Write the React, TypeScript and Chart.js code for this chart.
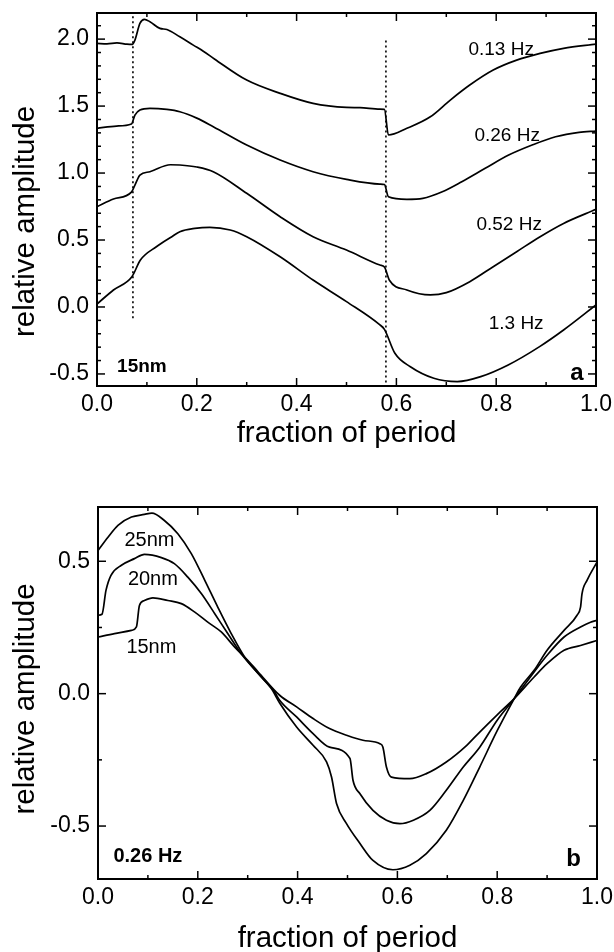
import React, { useEffect, useRef } from 'react';
import { Chart, registerables } from 'chart.js';

Chart.register(...registerables);

const FONT = '"Liberation Sans", Arial, Helvetica, sans-serif';

// ---------------- shared axis ticks ----------------
const xTicks = [0, 0.2, 0.4, 0.6, 0.8, 1.0];
const xMinorTicks = [0.1, 0.3, 0.5, 0.7, 0.9];

// ---------------- panel a (15nm, four frequencies) ----------------
const aX013 = [0, 0.02, 0.04, 0.06, 0.07, 0.076, 0.086, 0.095, 0.106, 0.126, 0.14, 0.166, 0.193, 0.213, 0.236, 0.3, 0.367, 0.433, 0.5, 0.527, 0.567, 0.576, 0.584, 0.621, 0.668, 0.708, 0.747, 0.794, 0.841, 0.888, 0.935, 1.0];
const aY013 = [1.968, 1.965, 1.972, 1.962, 1.96, 1.993, 2.117, 2.147, 2.13, 2.08, 2.072, 2.017, 1.955, 1.91, 1.85, 1.694, 1.595, 1.52, 1.49, 1.488, 1.478, 1.476, 1.284, 1.334, 1.42, 1.545, 1.657, 1.769, 1.843, 1.893, 1.931, 1.963];

const aX026 = [0, 0.039, 0.069, 0.076, 0.086, 0.106, 0.14, 0.166, 0.2, 0.233, 0.3, 0.367, 0.433, 0.5, 0.567, 0.576, 0.584, 0.621, 0.653, 0.692, 0.731, 0.778, 0.825, 0.872, 0.919, 0.966, 1.0];
const aY026 = [1.334, 1.351, 1.366, 1.433, 1.47, 1.483, 1.475, 1.458, 1.41, 1.346, 1.209, 1.097, 1.01, 0.953, 0.918, 0.914, 0.823, 0.804, 0.811, 0.86, 0.935, 1.035, 1.134, 1.209, 1.271, 1.304, 1.313];

const aX052 = [0, 0.033, 0.069, 0.076, 0.086, 0.106, 0.147, 0.166, 0.2, 0.233, 0.3, 0.367, 0.433, 0.5, 0.567, 0.576, 0.586, 0.621, 0.668, 0.7, 0.747, 0.794, 0.841, 0.888, 0.935, 1.0];
const aY052 = [0.749, 0.806, 0.857, 0.91, 0.985, 1.01, 1.062, 1.06, 1.045, 1.01, 0.849, 0.674, 0.525, 0.425, 0.313, 0.298, 0.2, 0.127, 0.09, 0.107, 0.189, 0.301, 0.413, 0.525, 0.624, 0.729];

const aX13 = [0, 0.033, 0.07, 0.087, 0.119, 0.15, 0.166, 0.196, 0.226, 0.267, 0.3, 0.367, 0.433, 0.5, 0.567, 0.576, 0.597, 0.628, 0.675, 0.722, 0.769, 0.824, 0.887, 0.935, 1.0];
const aY13 = [0.022, 0.127, 0.226, 0.351, 0.45, 0.525, 0.562, 0.587, 0.595, 0.575, 0.525, 0.375, 0.201, 0.04, -0.134, -0.167, -0.346, -0.446, -0.532, -0.557, -0.52, -0.433, -0.296, -0.172, 0.015];

const aMarkerX = [0.072, 0.579];
const aMarkerTop = [2.17, 1.99];
const aMarkerBottom = [-0.1, -0.59];

const aYTicks = [-0.5, 0.0, 0.5, 1.0, 1.5, 2.0];
const aYMinorTicks = [-0.4, -0.3, -0.2, -0.1, 0.1, 0.2, 0.3, 0.4, 0.6, 0.7, 0.8, 0.9, 1.1, 1.2, 1.3, 1.4, 1.6, 1.7, 1.8, 1.9, 2.1];

const aNoteText = ['0.13 Hz', '0.26 Hz', '0.52 Hz', '1.3 Hz', '15nm', 'a'];
const aNoteX = [0.81, 0.822, 0.826, 0.84, 0.09, 0.962];
const aNoteY = [1.92, 1.276, 0.612, -0.127, -0.448, -0.493];

// ---------------- panel b (0.26 Hz, three amplitudes) ----------------
const bX25 = [0, 0.02, 0.04, 0.067, 0.093, 0.108, 0.133, 0.16, 0.187, 0.214, 0.24, 0.267, 0.294, 0.321, 0.347, 0.364, 0.398, 0.431, 0.458, 0.468, 0.478, 0.498, 0.525, 0.551, 0.591, 0.625, 0.658, 0.698, 0.732, 0.765, 0.8, 0.834, 0.847, 0.874, 0.9, 0.934, 0.96, 0.967, 0.97, 0.98, 1.0];
const bY25 = [0.541, 0.591, 0.636, 0.667, 0.677, 0.682, 0.654, 0.604, 0.529, 0.428, 0.327, 0.227, 0.138, 0.076, 0.02, -0.035, -0.126, -0.195, -0.258, -0.315, -0.415, -0.491, -0.566, -0.63, -0.665, -0.648, -0.604, -0.516, -0.403, -0.277, -0.14, -0.019, 0.025, 0.088, 0.164, 0.239, 0.296, 0.327, 0.378, 0.428, 0.497];

const bX20 = [0, 0.008, 0.016, 0.026, 0.047, 0.073, 0.093, 0.127, 0.153, 0.18, 0.207, 0.234, 0.26, 0.287, 0.321, 0.354, 0.364, 0.398, 0.431, 0.464, 0.505, 0.511, 0.525, 0.551, 0.578, 0.605, 0.632, 0.665, 0.698, 0.732, 0.765, 0.8, 0.834, 0.874, 0.9, 0.934, 0.967, 0.987, 1.0];
const bY20 = [0.296, 0.3, 0.39, 0.447, 0.485, 0.51, 0.526, 0.514, 0.491, 0.44, 0.378, 0.302, 0.227, 0.151, 0.076, 0.006, -0.025, -0.088, -0.151, -0.202, -0.245, -0.327, -0.378, -0.441, -0.478, -0.491, -0.478, -0.441, -0.365, -0.277, -0.202, -0.1, -0.019, 0.082, 0.145, 0.214, 0.252, 0.27, 0.277];

const bX15 = [0, 0.033, 0.067, 0.077, 0.083, 0.093, 0.11, 0.14, 0.167, 0.194, 0.22, 0.247, 0.274, 0.3, 0.321, 0.364, 0.398, 0.431, 0.464, 0.498, 0.531, 0.565, 0.571, 0.578, 0.588, 0.625, 0.658, 0.698, 0.739, 0.765, 0.8, 0.834, 0.874, 0.9, 0.934, 0.967, 1.0];
const bY15 = [0.214, 0.227, 0.239, 0.252, 0.333, 0.352, 0.362, 0.352, 0.34, 0.308, 0.27, 0.233, 0.176, 0.126, 0.082, -0.006, -0.05, -0.094, -0.132, -0.157, -0.176, -0.189, -0.202, -0.277, -0.315, -0.321, -0.302, -0.258, -0.195, -0.145, -0.08, -0.019, 0.063, 0.113, 0.164, 0.182, 0.201];

const bYTicks = [-0.5, 0.0, 0.5];
const bYMinorTicks = [-0.25, 0.25];

const bNoteText = ['25nm', '20nm', '15nm', '0.26 Hz', 'b'];
const bNoteX = [0.103, 0.11, 0.107, 0.1, 0.953];
const bNoteY = [0.579, 0.432, 0.175, -0.614, -0.626];

// ---------------- fonts for notes (styles, not data) ----------------
const F_LABEL = `19px ${FONT}`;
const F_BOLD = `bold 19px ${FONT}`;
const F_NM = `20px ${FONT}`;
const F_BOLD_B = `bold 20px ${FONT}`;
const F_LETTER = `bold 24px ${FONT}`;
const F_TITLE = `29.5px ${FONT}`;

const aNoteFonts = [F_LABEL, F_LABEL, F_LABEL, F_LABEL, F_BOLD, F_LETTER];
const bNoteFonts = [F_NM, F_NM, F_NM, F_BOLD_B, F_LETTER];

function pts(xs: number[], ys: number[]) {
  return xs.map((x, i) => ({ x, y: ys[i] }));
}

function curve(xs: number[], ys: number[]) {
  return {
    data: pts(xs, ys),
    borderColor: '#000',
    borderWidth: 1.7,
    pointRadius: 0,
    showLine: true,
    fill: false,
    cubicInterpolationMode: 'monotone' as const,
  };
}

function marker(x: number, top: number, bottom: number) {
  return {
    data: [{ x, y: top }, { x, y: bottom }],
    borderColor: '#000',
    borderWidth: 1.6,
    borderDash: [2, 3],
    pointRadius: 0,
    showLine: true,
    fill: false,
  };
}

interface Spec {
  width: number;
  height: number;
  padTop: number;
  padRight: number;
  yAxisWidth: number;
  xAxisHeight: number;
  yMin: number;
  yMax: number;
  yTicks: number[];
  yMinor: number[];
  datasets: any[];
  notes: { text: string; x: number; y: number; font: string }[];
  xTitleGap: number;
  yTitleX: number;
  yTitleShift: number;
}

function makeDecor(spec: Spec) {
  return {
    id: 'decor',
    afterDraw(chart: any) {
      const { ctx, chartArea } = chart;
      const { left, right, top, bottom } = chartArea;
      const xs = chart.scales.x;
      const ys = chart.scales.y;
      ctx.save();
      ctx.strokeStyle = '#000';
      ctx.lineWidth = 1.5;
      const seg = (x1: number, y1: number, x2: number, y2: number) => {
        ctx.beginPath();
        ctx.moveTo(x1, y1);
        ctx.lineTo(x2, y2);
        ctx.stroke();
      };
      const MAJ = 8;
      const MIN = 4;
      xTicks.forEach((v) => {
        const p = xs.getPixelForValue(v);
        seg(p, bottom, p, bottom - MAJ);
        seg(p, top, p, top + MAJ);
      });
      xMinorTicks.forEach((v) => {
        const p = xs.getPixelForValue(v);
        seg(p, bottom, p, bottom - MIN);
        seg(p, top, p, top + MIN);
      });
      spec.yTicks.forEach((v) => {
        const p = ys.getPixelForValue(v);
        seg(left, p, left + MAJ, p);
        seg(right, p, right - MAJ, p);
      });
      spec.yMinor.forEach((v) => {
        const p = ys.getPixelForValue(v);
        seg(left, p, left + MIN, p);
        seg(right, p, right - MIN, p);
      });
      ctx.lineWidth = 2;
      ctx.strokeRect(left, top, right - left, bottom - top);

      ctx.fillStyle = '#000';
      ctx.textAlign = 'center';
      ctx.textBaseline = 'middle';
      spec.notes.forEach((n) => {
        ctx.font = n.font;
        ctx.fillText(n.text, xs.getPixelForValue(n.x), ys.getPixelForValue(n.y));
      });

      ctx.font = F_TITLE;
      ctx.textBaseline = 'alphabetic';
      ctx.fillText('fraction of period', (left + right) / 2, bottom + spec.xTitleGap);
      ctx.translate(spec.yTitleX, (top + bottom) / 2 + spec.yTitleShift);
      ctx.rotate(-Math.PI / 2);
      ctx.textBaseline = 'middle';
      ctx.fillText('relative amplitude', 0, 0);
      ctx.restore();
    },
  };
}

function buildConfig(spec: Spec): any {
  const tickFont = { family: FONT, size: 23 };
  return {
    type: 'scatter',
    data: { datasets: spec.datasets },
    plugins: [makeDecor(spec)],
    options: {
      animation: false,
      responsive: false,
      maintainAspectRatio: false,
      devicePixelRatio: 1,
      layout: { padding: { top: spec.padTop, right: spec.padRight, bottom: 0, left: 0 } },
      plugins: { legend: { display: false }, tooltip: { enabled: false } },
      elements: { point: { radius: 0 } },
      scales: {
        x: {
          type: 'linear',
          min: 0,
          max: 1,
          afterBuildTicks: (s: any) => {
            s.ticks = xTicks.map((v) => ({ value: v }));
          },
          ticks: {
            autoSkip: false,
            maxRotation: 0,
            padding: 5,
            color: '#000',
            font: tickFont,
            callback: (v: any) => Number(v).toFixed(1),
          },
          grid: { display: false, drawTicks: false },
          border: { display: false },
          afterFit: (s: any) => {
            s.height = spec.xAxisHeight;
            s.paddingLeft = 0;
            s.paddingRight = 0;
          },
        },
        y: {
          type: 'linear',
          min: spec.yMin,
          max: spec.yMax,
          afterBuildTicks: (s: any) => {
            s.ticks = spec.yTicks.map((v) => ({ value: v }));
          },
          ticks: {
            autoSkip: false,
            padding: 8,
            color: '#000',
            font: tickFont,
            callback: (v: any) => Number(v).toFixed(1),
          },
          grid: { display: false, drawTicks: false },
          border: { display: false },
          afterFit: (s: any) => {
            s.width = spec.yAxisWidth;
            s.paddingTop = 0;
            s.paddingBottom = 0;
          },
        },
      },
    },
  };
}

const specA: Spec = {
  width: 614,
  height: 470,
  padTop: 13,
  padRight: 18,
  yAxisWidth: 97,
  xAxisHeight: 84,
  yMin: -0.59,
  yMax: 2.195,
  yTicks: aYTicks,
  yMinor: aYMinorTicks,
  datasets: [
    curve(aX013, aY013),
    curve(aX026, aY026),
    curve(aX052, aY052),
    curve(aX13, aY13),
    ...aMarkerX.map((x, i) => marker(x, aMarkerTop[i], aMarkerBottom[i])),
  ],
  notes: aNoteText.map((text, i) => ({ text, x: aNoteX[i], y: aNoteY[i], font: aNoteFonts[i] })),
  xTitleGap: 56,
  yTitleX: 26,
  yTitleShift: 22,
};

const specB: Spec = {
  width: 614,
  height: 482,
  padTop: 37,
  padRight: 17,
  yAxisWidth: 98,
  xAxisHeight: 73,
  yMin: -0.7,
  yMax: 0.705,
  yTicks: bYTicks,
  yMinor: bYMinorTicks,
  datasets: [curve(bX25, bY25), curve(bX20, bY20), curve(bX15, bY15)],
  notes: bNoteText.map((text, i) => ({ text, x: bNoteX[i], y: bNoteY[i], font: bNoteFonts[i] })),
  xTitleGap: 68,
  yTitleX: 26,
  yTitleShift: 6,
};

function Panel({ spec, top }: { spec: Spec; top: number }) {
  const ref = useRef<HTMLCanvasElement | null>(null);
  useEffect(() => {
    if (!ref.current) return;
    const chart = new Chart(ref.current, buildConfig(spec));
    return () => chart.destroy();
  }, [spec]);
  return (
    <canvas
      ref={ref}
      width={spec.width}
      height={spec.height}
      style={{ position: 'absolute', left: 0, top, width: spec.width, height: spec.height, display: 'block' }}
    />
  );
}

export default function App() {
  return (
    <div style={{ position: 'absolute', left: 0, top: 0, width: 614, height: 952, background: '#fff' }}>
      <Panel spec={specA} top={0} />
      <Panel spec={specB} top={470} />
    </div>
  );
}
